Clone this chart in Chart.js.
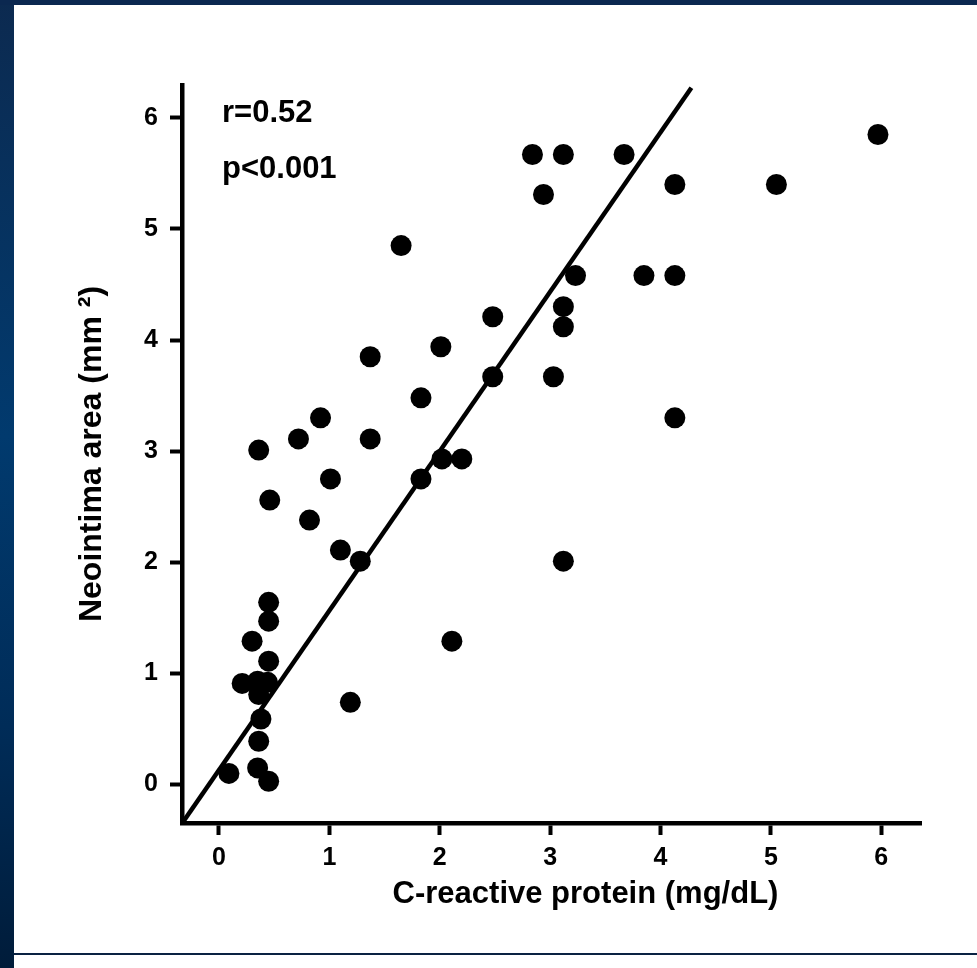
<!DOCTYPE html>
<html><head><meta charset="utf-8">
<script src="https://cdn.jsdelivr.net/npm/chart.js@4.4.1/dist/chart.umd.min.js"></script>
<style>
html,body{margin:0;padding:0;width:977px;height:968px;overflow:hidden;background:#fff;}
#frameLeft{position:absolute;left:0;top:0;width:14px;height:968px;background:linear-gradient(#0c2a50 0%,#013a6e 45%,#002c58 75%,#001c3a 100%);}
#frameTop{position:absolute;left:0;top:0;width:977px;height:5px;background:#0b2850;}
#frameBottom{position:absolute;left:14px;top:953px;width:963px;height:2px;background:#0a2242;}
#wrap{position:absolute;left:0;top:0;width:977px;height:968px;}
</style></head>
<body>
<div id="frameLeft"></div><div id="frameTop"></div><div id="frameBottom"></div>
<div id="wrap"><canvas id="c" width="977" height="968"></canvas></div>
<script>
// C-reactive protein (mg/dL) for each patient
const crp = [0.09,0.35,0.45,0.36,0.38,0.36,0.21,0.35,0.44,0.45,0.30,0.45,0.45,
  0.36,0.46,0.72,0.92,1.01,0.82,1.10,1.28,1.19,1.37,1.37,1.65,1.83,1.83,2.01,
  2.02,2.20,2.11,2.48,2.48,2.84,3.12,2.94,3.03,3.12,3.12,3.23,3.12,3.67,3.85,
  4.13,4.13,4.13,5.05,5.97];
// Neointima area (mm2) for each patient
const neointima = [0.10,0.15,0.03,0.39,0.59,0.81,0.91,0.93,0.92,1.11,1.29,1.47,1.64,
  3.01,2.56,3.11,3.30,2.75,2.38,2.11,2.01,0.74,3.85,3.11,4.85,3.48,2.75,3.94,
  2.93,2.93,1.29,4.21,3.67,5.67,5.67,5.31,3.67,4.30,4.12,4.58,2.01,5.67,4.58,
  5.40,4.58,3.30,5.40,5.85];
// regression line end points
const fitX = [-0.335, 4.28];
const fitY = [-0.35, 6.27];
const xTicks = [0,1,2,3,4,5,6];
const yTicks = [0,1,2,3,4,5,6];
const xTitle = 'C-reactive protein (mg/dL)';
const yTitle = 'Neointima area (mm \u00B2)';
const statsText = ['r=0.52','p<0.001'];

const FONT = '"Liberation Sans", Arial, Helvetica, sans-serif';

const textPlugin = {
  id: 'texts',
  afterDraw(chart) {
    const {ctx, chartArea} = chart;
    ctx.save();
    ctx.fillStyle = '#000';
    ctx.font = 'bold 31px ' + FONT;
    ctx.textAlign = 'left';
    ctx.textBaseline = 'alphabetic';
    ctx.fillText(statsText[0], chartArea.left + 40, chartArea.top + 37);
    ctx.fillText(statsText[1], chartArea.left + 40, chartArea.top + 93);
    // x axis title (placed slightly right of the axis centre, as in the original)
    ctx.textAlign = 'center';
    ctx.textBaseline = 'middle';
    ctx.font = 'bold 31px ' + FONT;
    ctx.fillText(xTitle, (chartArea.left + chartArea.right) / 2 + 34, chartArea.bottom + 71);
    ctx.restore();
  }
};

const axisCommon = {
  type: 'linear',
  grid: {display: true, drawOnChartArea: false, drawTicks: true, tickLength: 12, tickWidth: 4, tickColor: '#000'},
  border: {display: true, color: '#000', width: 4.5}
};

new Chart(document.getElementById('c'), {
  type: 'scatter',
  data: {
    datasets: [
      {
        label: 'fit',
        data: fitX.map((x, i) => ({x: x, y: fitY[i]})),
        showLine: true,
        borderColor: '#000',
        borderWidth: 4.5,
        pointRadius: 0,
        fill: false,
        order: 2
      },
      {
        label: 'patients',
        data: crp.map((x, i) => ({x: x, y: neointima[i]})),
        backgroundColor: '#000',
        borderWidth: 0,
        pointRadius: 10.5,
        pointHoverRadius: 10.5,
        order: 1
      }
    ]
  },
  options: {
    responsive: false,
    animation: false,
    events: [],
    layout: {padding: {left: 0, top: 85, right: 56, bottom: 45}},
    plugins: {legend: {display: false}, tooltip: {enabled: false}},
    scales: {
      x: Object.assign({}, axisCommon, {
        min: -0.335, max: 6.36,
        afterBuildTicks: s => { s.ticks = xTicks.map(v => ({value: v})); },
        afterFit: s => { s.height = 100; },
        ticks: {color: '#000', font: {family: FONT, weight: 'bold', size: 25}, padding: 8, maxRotation: 0, autoSkip: false},
        title: {display: false}
      }),
      y: Object.assign({}, axisCommon, {
        min: -0.346, max: 6.295,
        afterBuildTicks: s => { s.ticks = yTicks.map(v => ({value: v})); },
        afterFit: s => { s.width = 182; },
        ticks: {color: '#000', font: {family: FONT, weight: 'bold', size: 25}, padding: 12, autoSkip: false},
        title: {display: true, text: yTitle, color: '#000', font: {family: FONT, weight: 'bold', size: 32}, padding: {top: 73, bottom: 0}}
      })
    }
  },
  plugins: [textPlugin]
});
</script>
</body></html>
